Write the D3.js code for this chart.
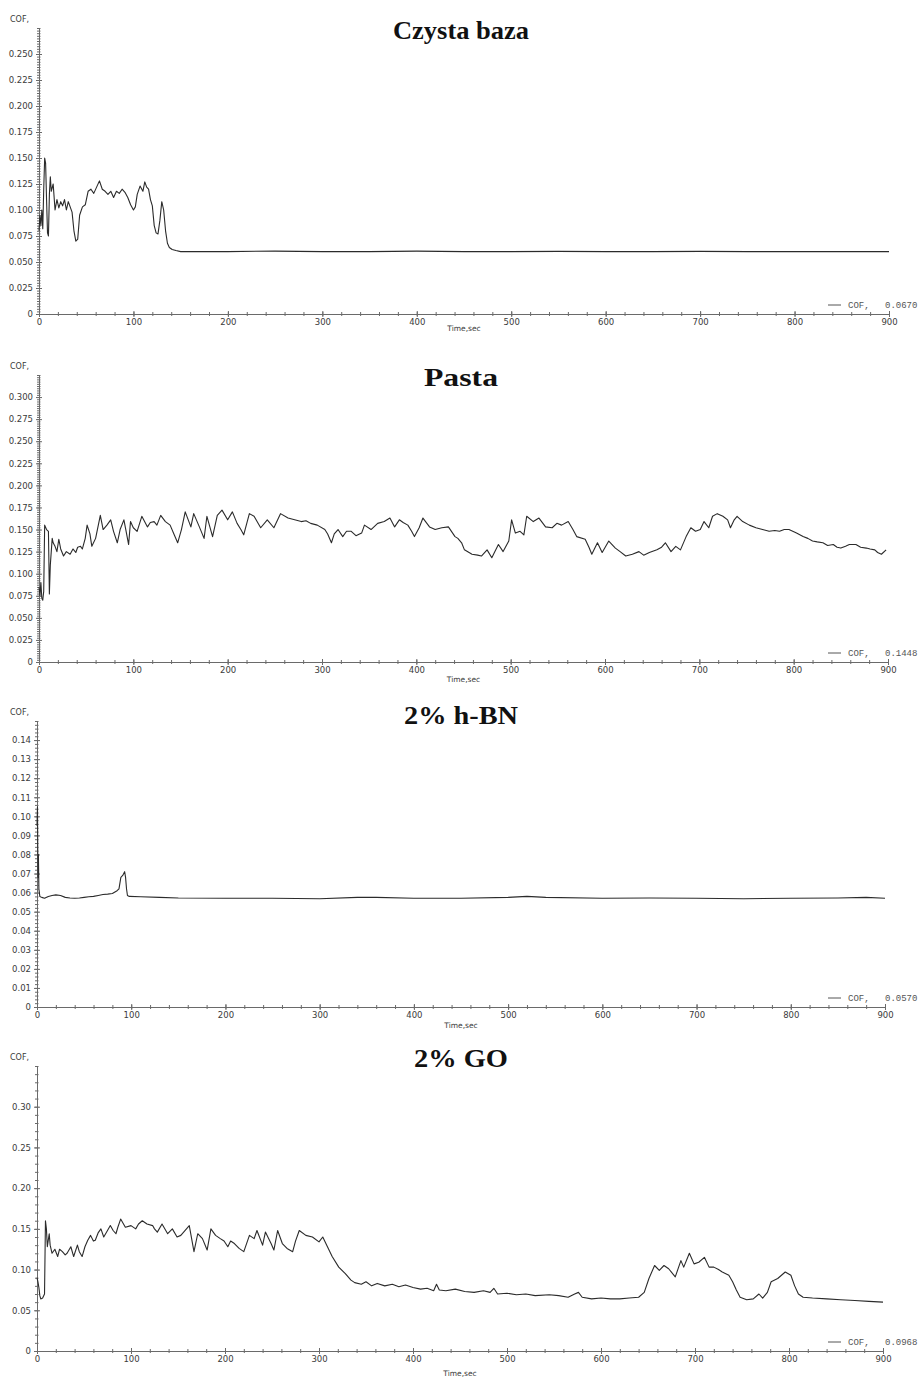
<!DOCTYPE html>
<html>
<head>
<meta charset="utf-8">
<script src="https://cdn.jsdelivr.net/npm/d3@7"></script>
<style>
  body { margin: 0; background: #fff; }
  svg { display: block; }
</style>
</head>
<body>
<div id="chart"></div>
<script>
// ---- data ----
const titles = ["Czysta baza", "Pasta", "2% h-BN", "2% GO"];
const legendValues = ["0.0670", "0.1448", "0.0570", "0.0968"];
const xTicks = [0, 100, 200, 300, 400, 500, 600, 700, 800, 900];

const bazaTime = [0,1,2,3,4,5,6,7,8,9,10,11,12,13,15,17,19,21,23,25,27,29,31,33,35,37,39,41,43,46,49,52,55,58,61,64,67,70,73,76,79,82,85,88,91,94,97,100,102,104,107,110,112,114,116,118,120,122,124,126,128,130,132,134,136,138,141,145,150,160,180,200,250,300,350,400,450,500,550,600,650,700,750,800,850,900];
const bazaCof = [0.080,0.095,0.085,0.100,0.082,0.120,0.150,0.145,0.110,0.078,0.075,0.115,0.132,0.118,0.125,0.100,0.110,0.102,0.108,0.104,0.110,0.100,0.108,0.103,0.098,0.080,0.070,0.072,0.095,0.103,0.105,0.118,0.120,0.116,0.122,0.128,0.120,0.118,0.115,0.118,0.112,0.118,0.116,0.120,0.117,0.112,0.105,0.100,0.103,0.115,0.123,0.118,0.127,0.122,0.120,0.110,0.104,0.085,0.078,0.077,0.090,0.108,0.100,0.080,0.068,0.064,0.062,0.061,0.060,0.060,0.060,0.060,0.0605,0.060,0.060,0.0605,0.060,0.060,0.0602,0.060,0.060,0.0602,0.060,0.060,0.060,0.060];

const pastaTime = [0,1,2,3,4,5,6,8,10,11,12,14,15,17,19,21,23,26,29,33,36,39,41,44,46,49,51,54,56,60,65,68,72,76,79,83,86,90,92,95,97,100,104,109,115,118,122,125,129,134,139,143,147,151,155,161,164,170,175,178,184,189,194,200,205,210,214,217,223,228,235,242,249,256,264,271,278,283,288,295,303,306,310,313,317,322,326,331,336,342,345,352,359,366,372,377,382,386,391,395,398,403,407,414,420,427,434,441,444,448,451,459,465,469,475,480,487,492,498,501,505,510,514,517,524,530,537,544,549,554,561,566,570,579,583,586,592,597,604,611,616,622,629,636,641,647,655,660,664,670,675,680,686,691,696,701,705,710,714,719,725,730,733,737,740,746,753,760,767,774,780,785,790,795,803,810,815,820,825,831,836,842,846,850,855,859,866,871,877,881,886,889,893,898];
const pastaCof = [0.085,0.075,0.090,0.072,0.070,0.080,0.155,0.150,0.148,0.077,0.110,0.140,0.135,0.131,0.125,0.139,0.128,0.120,0.125,0.122,0.128,0.124,0.130,0.131,0.128,0.140,0.155,0.145,0.131,0.140,0.166,0.150,0.155,0.161,0.148,0.135,0.150,0.161,0.150,0.133,0.159,0.152,0.148,0.165,0.153,0.158,0.159,0.155,0.166,0.159,0.155,0.145,0.135,0.150,0.170,0.153,0.168,0.153,0.140,0.165,0.142,0.166,0.172,0.161,0.170,0.157,0.150,0.144,0.168,0.165,0.152,0.161,0.152,0.168,0.163,0.161,0.159,0.160,0.157,0.155,0.150,0.145,0.135,0.145,0.150,0.142,0.148,0.148,0.143,0.146,0.155,0.150,0.157,0.159,0.163,0.153,0.161,0.158,0.155,0.148,0.142,0.152,0.163,0.153,0.150,0.152,0.153,0.142,0.140,0.135,0.127,0.122,0.121,0.120,0.127,0.118,0.133,0.125,0.137,0.161,0.146,0.148,0.144,0.165,0.159,0.163,0.153,0.152,0.157,0.155,0.159,0.150,0.142,0.139,0.130,0.122,0.135,0.124,0.137,0.129,0.125,0.120,0.122,0.125,0.121,0.124,0.127,0.130,0.135,0.125,0.131,0.127,0.142,0.152,0.148,0.150,0.159,0.152,0.165,0.168,0.165,0.161,0.152,0.161,0.165,0.159,0.155,0.152,0.150,0.148,0.149,0.148,0.150,0.150,0.146,0.142,0.140,0.137,0.136,0.135,0.132,0.133,0.130,0.129,0.131,0.133,0.133,0.130,0.129,0.128,0.127,0.124,0.122,0.127];

const hbnTime = [0,0.5,1,1.5,2,3,5,8,12,16,20,25,30,35,40,45,50,55,60,65,70,75,80,85,87,89,91,93,94,95,96,98,110,130,150,200,250,300,340,360,400,450,500,520,540,600,650,700,750,800,850,880,900];
const hbnCof = [0.095,0.105,0.068,0.080,0.062,0.058,0.0575,0.057,0.058,0.0585,0.0588,0.0585,0.0575,0.0572,0.057,0.0572,0.0575,0.0578,0.058,0.0585,0.059,0.0592,0.0595,0.061,0.062,0.068,0.069,0.071,0.068,0.062,0.0585,0.058,0.0578,0.0575,0.0572,0.057,0.057,0.0568,0.0575,0.0575,0.057,0.057,0.0575,0.058,0.0575,0.057,0.0572,0.057,0.0568,0.057,0.0572,0.0575,0.057];

const goTime = [0,1,2,3,4,6,8,9,10,11,13,14,16,19,22,24,27,30,32,36,39,43,45,48,51,54,57,60,62,65,68,71,75,78,81,84,86,89,94,100,105,108,112,117,123,125,128,133,139,144,149,153,156,162,167,171,176,181,185,190,195,199,203,206,210,215,220,226,231,234,240,243,249,252,256,261,266,272,275,279,286,293,300,304,309,314,321,328,334,338,345,350,356,362,370,378,385,392,400,408,415,422,425,428,435,445,455,465,475,482,486,490,500,510,520,530,545,555,565,572,576,580,590,600,610,620,630,640,646,651,657,662,667,672,679,685,688,694,699,704,710,715,720,725,729,736,740,744,748,755,762,768,772,777,781,788,792,796,802,806,810,815,825,840,855,870,885,900];
const goCof = [0.090,0.085,0.078,0.068,0.064,0.065,0.070,0.160,0.150,0.128,0.144,0.130,0.120,0.125,0.116,0.125,0.122,0.118,0.120,0.128,0.116,0.130,0.122,0.116,0.128,0.136,0.142,0.135,0.136,0.145,0.150,0.140,0.148,0.154,0.148,0.144,0.152,0.162,0.152,0.154,0.150,0.156,0.160,0.156,0.154,0.150,0.146,0.156,0.144,0.150,0.140,0.142,0.146,0.154,0.122,0.144,0.138,0.124,0.150,0.142,0.138,0.135,0.128,0.135,0.132,0.126,0.122,0.142,0.138,0.148,0.130,0.146,0.132,0.124,0.148,0.132,0.126,0.122,0.135,0.148,0.142,0.140,0.134,0.140,0.128,0.116,0.103,0.095,0.087,0.084,0.082,0.085,0.080,0.083,0.080,0.082,0.079,0.081,0.078,0.076,0.077,0.074,0.082,0.075,0.074,0.076,0.073,0.072,0.074,0.072,0.077,0.070,0.071,0.069,0.070,0.068,0.069,0.068,0.066,0.070,0.072,0.066,0.064,0.065,0.064,0.064,0.065,0.066,0.072,0.089,0.105,0.099,0.105,0.101,0.091,0.111,0.103,0.120,0.107,0.109,0.115,0.103,0.103,0.100,0.097,0.093,0.085,0.075,0.066,0.063,0.064,0.070,0.065,0.072,0.085,0.089,0.093,0.097,0.093,0.080,0.070,0.066,0.065,0.064,0.063,0.062,0.061,0.060];

// y tick values per panel
const bazaYTicks = d3.range(0, 0.2501, 0.025);
const pastaYTicks = d3.range(0, 0.3001, 0.025);
const hbnYTicks = d3.range(0, 0.1401, 0.01);
const goYTicks = [0, 0.05, 0.10, 0.15, 0.20, 0.25, 0.30];

// ---- layout ----
const W = 923, H = 1382;
const svg = d3.select("#chart").append("svg")
    .attr("width", W)
    .attr("height", H);

const panels = [
  {time: bazaTime, cof: bazaCof, yMax: 0.275, yTicks: bazaYTicks, dec: 3, minor: 0.0025,
   x0: 39, x1: 889, top: 28, bottom: 314, titleY: 39, titleLen: 136, cofY: 22, timeDy: 17},
  {time: pastaTime, cof: pastaCof, yMax: 0.325, yTicks: pastaYTicks, dec: 3, minor: 0.0025,
   x0: 39, x1: 888, top: 375, bottom: 662, titleY: 386, titleLen: 74, cofY: 369, timeDy: 20},
  {time: hbnTime, cof: hbnCof, yMax: 0.15, yTicks: hbnYTicks, dec: 2, minor: 0.002,
   x0: 37, x1: 885, top: 721, bottom: 1007, titleY: 724, titleLen: 114, cofY: 715, timeDy: 21},
  {time: goTime, cof: goCof, yMax: 0.35, yTicks: goYTicks, dec: 2, minor: 0.01,
   x0: 37, x1: 883, top: 1066, bottom: 1351, titleY: 1067, titleLen: 94, cofY: 1060, timeDy: 25}
];

const axisColor = "#6a6a6a";
const textColor = "#3a3a3a";

panels.forEach(function(p, i) {
  const g = svg.append("g");

  const x = d3.scaleLinear().domain([0, 900]).range([p.x0, p.x1]);
  const y = d3.scaleLinear().domain([0, p.yMax]).range([p.bottom, p.top]);

  // minor y ticks
  g.append("g")
      .attr("transform", "translate(" + p.x0 + ",0)")
      .call(d3.axisLeft(y).tickValues(d3.range(0, p.yMax + 1e-9, p.minor)).tickSize(2).tickSizeOuter(0).tickFormat(""))
      .call(s => s.selectAll(".tick line").attr("x1", 1.5).attr("stroke", axisColor))
      .call(s => s.select(".domain").attr("stroke", axisColor));

  // major y ticks + labels
  g.append("g")
      .attr("transform", "translate(" + p.x0 + ",0)")
      .call(d3.axisLeft(y).tickValues(p.yTicks).tickSize(3).tickSizeOuter(0).tickPadding(3)
        .tickFormat(d => d < 1e-9 ? "0" : d.toFixed(p.dec)))
      .call(s => s.select(".domain").remove())
      .call(s => s.selectAll(".tick line").attr("x1", 3).attr("stroke", axisColor))
      .call(s => s.selectAll("text").attr("fill", textColor)
        .style("font-family", "DejaVu Sans").style("font-size", "8.5px"));

  // minor x ticks
  g.append("g")
      .attr("transform", "translate(0," + p.bottom + ")")
      .call(d3.axisBottom(x).tickValues(d3.range(0, 901, 20)).tickSize(2).tickSizeOuter(0).tickFormat(""))
      .call(s => s.selectAll(".tick line").attr("y1", -2).attr("stroke", axisColor))
      .call(s => s.select(".domain").attr("stroke", axisColor));

  // major x ticks + labels
  g.append("g")
      .attr("transform", "translate(0," + p.bottom + ")")
      .call(d3.axisBottom(x).tickValues(xTicks).tickSize(3).tickSizeOuter(0).tickPadding(2))
      .call(s => s.select(".domain").remove())
      .call(s => s.selectAll(".tick line").attr("y1", -3).attr("stroke", axisColor))
      .call(s => s.selectAll("text").attr("fill", textColor)
        .style("font-family", "DejaVu Sans").style("font-size", "8.5px"));

  // axis titles
  g.append("text")
      .attr("x", (p.x0 + p.x1) / 2)
      .attr("y", p.bottom + p.timeDy)
      .attr("text-anchor", "middle")
      .attr("fill", textColor)
      .style("font-family", "DejaVu Sans").style("font-size", "7.5px")
      .text("Time,sec");

  g.append("text")
      .attr("x", 10)
      .attr("y", p.cofY)
      .attr("fill", textColor)
      .style("font-family", "DejaVu Sans").style("font-size", "8px")
      .text("COF,");

  // chart title
  g.append("text")
      .attr("x", 461)
      .attr("y", p.titleY)
      .attr("text-anchor", "middle")
      .attr("textLength", p.titleLen)
      .attr("lengthAdjust", "spacingAndGlyphs")
      .attr("fill", "#111")
      .style("font-family", "Liberation Serif").style("font-weight", "bold").style("font-size", "25px")
      .text(titles[i]);

  // legend
  const ly = p.bottom - 9;
  g.append("line")
      .attr("x1", 828).attr("x2", 841)
      .attr("y1", ly).attr("y2", ly)
      .attr("stroke", "#555").attr("stroke-width", 1);
  g.append("text")
      .attr("x", 848).attr("y", ly + 3)
      .attr("fill", "#555")
      .style("font-family", "Liberation Mono").style("font-size", "9px")
      .text("COF,");
  g.append("text")
      .attr("x", 885).attr("y", ly + 3)
      .attr("fill", "#555")
      .style("font-family", "Liberation Mono").style("font-size", "9px")
      .text(legendValues[i]);

  // the trace
  const pts = p.time.map((t, k) => [t, p.cof[k]]);
  g.append("path")
      .datum(pts)
      .attr("fill", "none")
      .attr("stroke", "#2b2b2b")
      .attr("stroke-width", 1.1)
      .attr("stroke-linejoin", "round")
      .attr("d", d3.line().x(d => x(d[0])).y(d => y(d[1])));
});
</script>
</body>
</html>
